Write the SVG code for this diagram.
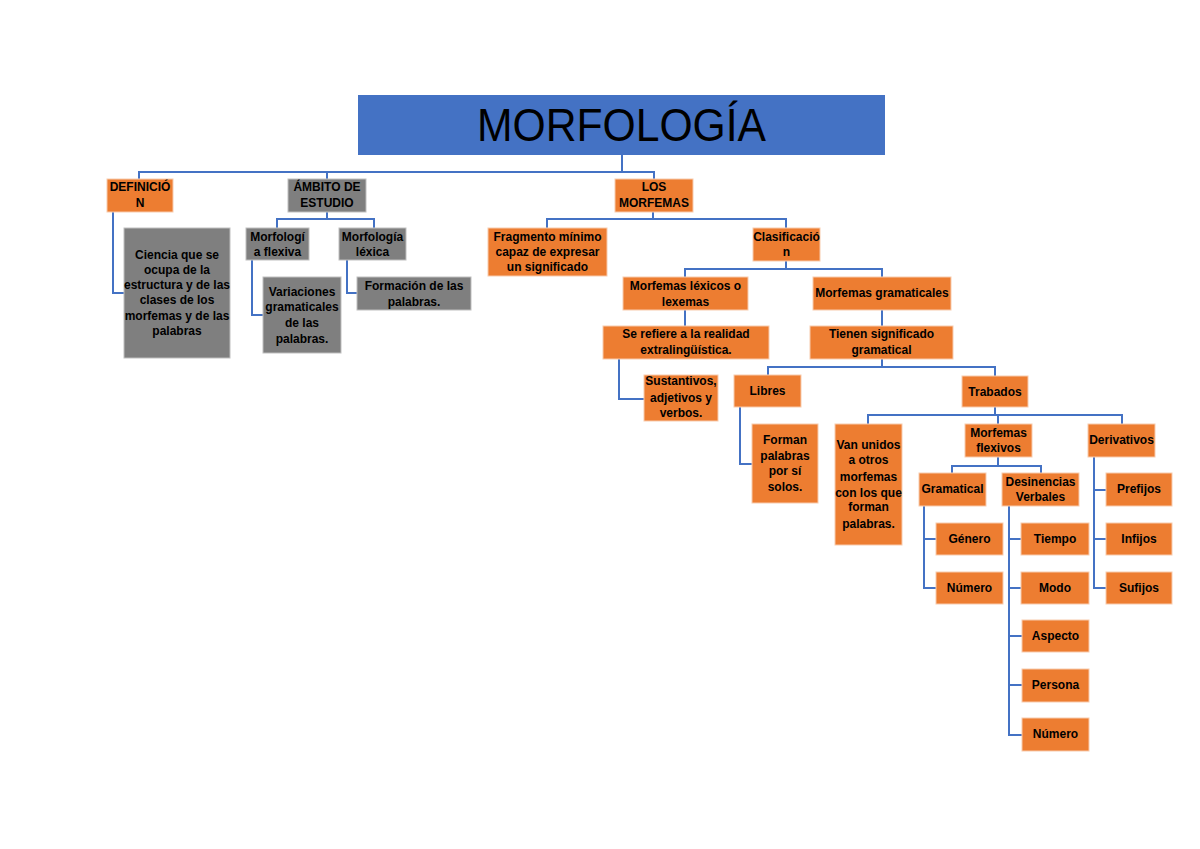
<svg xmlns="http://www.w3.org/2000/svg" width="1200" height="849" viewBox="0 0 1200 849">
<style>
.o{fill:#ED7D31;stroke:#F8CBAD;stroke-width:1}
.g{fill:#7F7F7F;stroke:#BFBFBF;stroke-width:1}
.t{font-family:"Liberation Sans",Arial,sans-serif;font-weight:bold;font-size:12px;fill:#000;text-anchor:middle}
.c path{fill:none;stroke:#4472C4;stroke-width:2}
</style>
<rect width="1200" height="849" fill="#fff"/>
<g class="c" id="connectors">
<path d="M622,155 V172"/>
<path d="M139,179 V172 H654 V179"/>
<path d="M327,172 V179"/>
<path d="M327,212 V219"/>
<path d="M277,228 V219 H374 V228"/>
<path d="M113,212 V293 H124"/>
<path d="M252,260 V315 H263"/>
<path d="M347,260 V293 H357"/>
<path d="M653,212 V219"/>
<path d="M547,228 V219 H786 V228"/>
<path d="M786,261 V269"/>
<path d="M685,277 V269 H882 V277"/>
<path d="M685,310 V326"/>
<path d="M882,310 V326"/>
<path d="M619,359 V399 H644"/>
<path d="M882,359 V367"/>
<path d="M768,375 V367 H995 V376"/>
<path d="M740,407 V464 H752"/>
<path d="M995,407 V415"/>
<path d="M868,424 V415 H1122 V424"/>
<path d="M998,415 V424"/>
<path d="M998,457 V466"/>
<path d="M952,473 V466 H1041 V473"/>
<path d="M924,506 V588 H936"/>
<path d="M924,539 H936"/>
<path d="M1009,506 V735 H1022"/>
<path d="M1009,539 H1021 M1009,588 H1021 M1009,636 H1022 M1009,685 H1022"/>
<path d="M1094,457 V588 H1106"/>
<path d="M1094,490 H1106 M1094,539 H1106"/>
</g>
<g id="title">
<rect x="358" y="95" width="527" height="60" fill="#4472C4"/>
<text x="621.5" y="141" font-family="Liberation Sans,Arial,sans-serif" font-size="46" text-anchor="middle" fill="#000" textLength="289" lengthAdjust="spacingAndGlyphs">MORFOLOGÍA</text>
</g>
<g id="definicion"><rect class="o" x="107" y="179" width="66" height="33"/><text class="t" x="140" y="191">DEFINICIÓ</text><text class="t" x="140" y="207">N</text></g>
<g id="ambito"><rect class="g" x="288" y="179" width="78" height="33"/><text class="t" x="327" y="191">ÁMBITO DE</text><text class="t" x="327" y="207">ESTUDIO</text></g>
<g id="los-morfemas"><rect class="o" x="615" y="179" width="78" height="33"/><text class="t" x="654" y="191">LOS</text><text class="t" x="654" y="207">MORFEMAS</text></g>
<g id="ciencia"><rect class="g" x="124" y="228" width="106" height="130"/>
<text class="t" x="177" y="259">Ciencia que se</text>
<text class="t" x="177" y="274">ocupa de la</text>
<text class="t" x="177" y="289">estructura y de las</text>
<text class="t" x="177" y="304">clases de los</text>
<text class="t" x="177" y="320">morfemas y de las</text>
<text class="t" x="177" y="335">palabras</text></g>
<g id="morf-flexiva"><rect class="g" x="246" y="228" width="63" height="32"/><text class="t" x="277.5" y="241">Morfologí</text><text class="t" x="277.5" y="256">a flexiva</text></g>
<g id="morf-lexica"><rect class="g" x="339" y="228" width="67" height="32"/><text class="t" x="372.5" y="241">Morfología</text><text class="t" x="372.5" y="256">léxica</text></g>
<g id="variaciones"><rect class="g" x="263" y="277" width="78" height="76"/>
<text class="t" x="302" y="296">Variaciones</text>
<text class="t" x="302" y="311">gramaticales</text>
<text class="t" x="302" y="327">de las</text>
<text class="t" x="302" y="343">palabras.</text></g>
<g id="formacion"><rect class="g" x="357" y="277" width="114" height="33"/><text class="t" x="414" y="290">Formación de las</text><text class="t" x="414" y="306">palabras.</text></g>
<g id="fragmento"><rect class="o" x="488" y="228" width="119" height="48"/>
<text class="t" x="547.5" y="241">Fragmento mínimo</text>
<text class="t" x="547.5" y="256">capaz de expresar</text>
<text class="t" x="547.5" y="271">un significado</text></g>
<g id="clasificacion"><rect class="o" x="753" y="228" width="67" height="33"/><text class="t" x="786.5" y="241">Clasificació</text><text class="t" x="786.5" y="256">n</text></g>
<g id="lexicos"><rect class="o" x="623" y="277" width="125" height="33"/><text class="t" x="685.5" y="290">Morfemas léxicos o</text><text class="t" x="685.5" y="306">lexemas</text></g>
<g id="gramaticales"><rect class="o" x="813" y="277" width="138" height="33"/><text class="t" x="882" y="297">Morfemas gramaticales</text></g>
<g id="se-refiere"><rect class="o" x="603" y="326" width="166" height="33"/><text class="t" x="686" y="338">Se refiere a la realidad</text><text class="t" x="686" y="354">extralingüística.</text></g>
<g id="tienen"><rect class="o" x="810" y="326" width="143" height="33"/><text class="t" x="881.5" y="338">Tienen significado</text><text class="t" x="881.5" y="354">gramatical</text></g>
<g id="sustantivos"><rect class="o" x="644" y="375" width="74" height="46"/>
<text class="t" x="681" y="385">Sustantivos,</text>
<text class="t" x="681" y="402">adjetivos y</text>
<text class="t" x="681" y="417">verbos.</text></g>
<g id="libres"><rect class="o" x="734" y="375" width="67" height="32"/><text class="t" x="767.5" y="395">Libres</text></g>
<g id="trabados"><rect class="o" x="962" y="376" width="66" height="31"/><text class="t" x="995" y="396">Trabados</text></g>
<g id="forman"><rect class="o" x="752" y="424" width="66" height="79"/>
<text class="t" x="785" y="444">Forman</text>
<text class="t" x="785" y="460">palabras</text>
<text class="t" x="785" y="475">por sí</text>
<text class="t" x="785" y="491">solos.</text></g>
<g id="van-unidos"><rect class="o" x="835" y="424" width="67" height="121"/>
<text class="t" x="868.5" y="449">Van unidos</text>
<text class="t" x="868.5" y="464">a otros</text>
<text class="t" x="868.5" y="481">morfemas</text>
<text class="t" x="868.5" y="497">con los que</text>
<text class="t" x="868.5" y="511">forman</text>
<text class="t" x="868.5" y="528">palabras.</text></g>
<g id="flexivos"><rect class="o" x="965" y="424" width="67" height="33"/><text class="t" x="998.5" y="437">Morfemas</text><text class="t" x="998.5" y="452">flexivos</text></g>
<g id="derivativos"><rect class="o" x="1088" y="424" width="67" height="33"/><text class="t" x="1121.5" y="444">Derivativos</text></g>
<g id="gramatical"><rect class="o" x="919" y="473" width="67" height="33"/><text class="t" x="952.5" y="493">Gramatical</text></g>
<g id="desinencias"><rect class="o" x="1002" y="473" width="77" height="33"/><text class="t" x="1040.5" y="486">Desinencias</text><text class="t" x="1040.5" y="501">Verbales</text></g>
<g id="prefijos"><rect class="o" x="1106" y="473" width="66" height="33"/><text class="t" x="1139" y="493">Prefijos</text></g>
<g id="genero"><rect class="o" x="936" y="523" width="67" height="32"/><text class="t" x="969.5" y="543">Género</text></g>
<g id="numero-1"><rect class="o" x="936" y="572" width="67" height="32"/><text class="t" x="969.5" y="592">Número</text></g>
<g id="tiempo"><rect class="o" x="1021" y="523" width="68" height="32"/><text class="t" x="1055" y="543">Tiempo</text></g>
<g id="modo"><rect class="o" x="1021" y="572" width="68" height="32"/><text class="t" x="1055" y="592">Modo</text></g>
<g id="aspecto"><rect class="o" x="1022" y="620" width="67" height="32"/><text class="t" x="1055.5" y="640">Aspecto</text></g>
<g id="persona"><rect class="o" x="1022" y="669" width="67" height="33"/><text class="t" x="1055.5" y="689">Persona</text></g>
<g id="numero-2"><rect class="o" x="1022" y="718" width="67" height="33"/><text class="t" x="1055.5" y="738">Número</text></g>
<g id="infijos"><rect class="o" x="1106" y="523" width="66" height="32"/><text class="t" x="1139" y="543">Infijos</text></g>
<g id="sufijos"><rect class="o" x="1106" y="572" width="66" height="32"/><text class="t" x="1139" y="592">Sufijos</text></g>
</svg>
